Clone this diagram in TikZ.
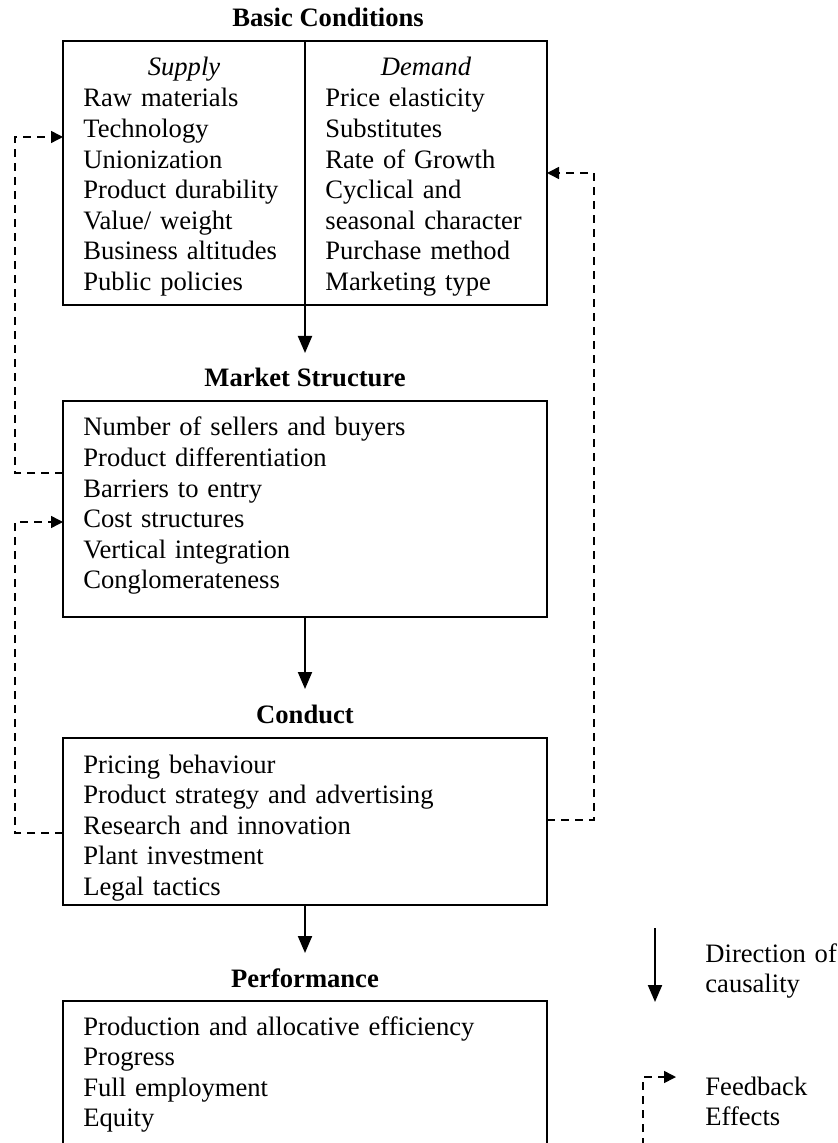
\documentclass[tikz,border=0pt]{standalone}
\usepackage{fontspec}
\setmainfont{Liberation Serif}
\usetikzlibrary{arrows.meta}
\newcommand\diagfont{\fontsize{13.3}{15.3}\selectfont}
\begin{document}
\begin{tikzpicture}[x=0.5pt, y=-0.5pt, font=\diagfont,
    box/.style={draw, line width=1pt, inner sep=0pt, outer sep=0pt, anchor=north west},
    title/.style={font=\diagfont\bfseries, anchor=base, inner sep=0pt},
    head/.style={font=\diagfont\itshape, anchor=base, inner sep=0pt},
    items/.style={font=\diagfont, anchor=base west, align=left, inner sep=0pt, text width=110pt},
    causal/.style={line width=1pt, -{Triangle[length=8.5pt, width=7pt]}},
    feedback/.style={line width=0.75pt, dash pattern=on 4pt off 3pt, -{Triangle[length=6pt, width=6pt]}}]
  \useasboundingbox (0,0) rectangle (838,1143);
  \clip (0,0) rectangle (838,1143);
  \node[title] (basictitle) at (328,27) {Basic Conditions};
  \node[box, minimum width=121pt, minimum height=132pt] (supplybox) at (63,41) {};
  \node[box, minimum width=121pt, minimum height=132pt] (demandbox) at (305,41) {};
  \node[head] (supplyhead) at (184,76) {Supply};
  \node[head] (demandhead) at (426,76) {Demand};
  \node[items] (supplylist) at (83,107) {Raw materials\\Technology\\Unionization\\Product durability\\Value/ weight\\Business altitudes\\Public policies};
  \node[items] (demandlist) at (325,107) {Price elasticity\\Substitutes\\Rate of Growth\\Cyclical and\\seasonal character\\Purchase method\\Marketing type};
  \node[title] (markettitle) at (305,387) {Market Structure};
  \node[box, minimum width=242pt, minimum height=108pt] (marketbox) at (63,401) {};
  \node[items, text width=220pt] (marketlist) at (83,436) {Number of sellers and buyers\\Product differentiation\\Barriers to entry\\Cost structures\\Vertical integration\\Conglomerateness};
  \node[title] (conducttitle) at (305,723) {Conduct};
  \node[box, minimum width=242pt, minimum height=83.5pt] (conductbox) at (63,738) {};
  \node[items, text width=220pt] (conductlist) at (83,773) {Pricing behaviour\\Product strategy and advertising\\Research and innovation\\Plant investment\\Legal tactics};
  \node[title] (perftitle) at (305,987) {Performance};
  \node[box, minimum width=242pt, minimum height=85pt] (perfbox) at (63,1001) {};
  \node[items, text width=220pt] (perflist) at (83,1035) {Production and allocative efficiency\\Progress\\Full employment\\Equity};
  \draw[causal] (supplybox.south east) -- ([yshift=17pt]markettitle.base);
  \draw[causal] (marketbox.south) -- ([yshift=17pt]conducttitle.base);
  \draw[causal] (conductbox.south) -- ([yshift=17pt]perftitle.base);
  \draw[feedback] ([yshift=-36pt]marketbox.north west) -- ++(-48,0) |- ([yshift=-48pt]supplybox.north west);
  \draw[feedback] ([yshift=-47.5pt]conductbox.north west) -- ++(-48,0) |- ([yshift=-60.5pt]marketbox.north west);
  \draw[feedback] ([yshift=-41pt]conductbox.north east) -- ++(47,0) |- ([yshift=-66pt]demandbox.north east);
  % legend
  \coordinate (causefrom) at (655,928);
  \coordinate (causeto) at (655,1002);
  \draw[causal] (causefrom) -- (causeto);
  \node[items, text width=70pt] (causetext) at (705,962) {Direction of\\causality};
  \coordinate (fbfrom) at (643,1160);
  \coordinate (fbto) at (676,1077);
  \draw[feedback] (fbfrom) |- (fbto);
  \node[items, text width=70pt] (fbtext) at (705,1095) {Feedback\\Effects};
\end{tikzpicture}
\end{document}
